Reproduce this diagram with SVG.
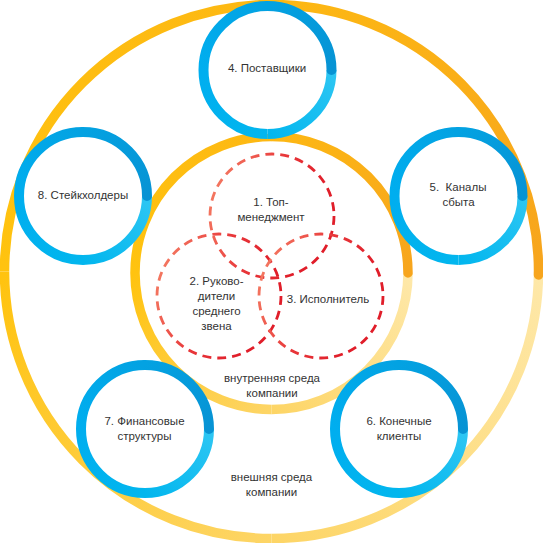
<svg xmlns="http://www.w3.org/2000/svg" xmlns:xlink="http://www.w3.org/1999/xlink" width="543" height="543" viewBox="0 0 543 543">
<style>
.lbl{font-family:"Liberation Sans","Noto Sans",Arial,sans-serif;font-size:11.5px;fill:#333;text-anchor:middle}
.yr{fill:none;stroke-width:9.5}
.br{fill:none;stroke-width:10}
.dash{fill:none;stroke-width:2.8;stroke-dasharray:9 6}
</style>
<defs>
<linearGradient id="yA" x1="1" y1="1" x2="0" y2="0"><stop offset="0" stop-color="#F7A51D"/><stop offset="1" stop-color="#FDB813"/></linearGradient>
<linearGradient id="yB" x1="1" y1="0" x2="0" y2="1"><stop offset="0" stop-color="#FDB813"/><stop offset="1" stop-color="#FFC30F"/></linearGradient>
<linearGradient id="yC" x1="0" y1="0" x2="1" y2="1"><stop offset="0" stop-color="#FFC30F"/><stop offset="1" stop-color="#FDD566"/></linearGradient>
<linearGradient id="yD" x1="0" y1="1" x2="1" y2="0"><stop offset="0" stop-color="#FDD566"/><stop offset="1" stop-color="#FEE8A9"/></linearGradient>
<linearGradient id="bA" x1="1" y1="1" x2="0" y2="0"><stop offset="0" stop-color="#0793D4"/><stop offset="1" stop-color="#03A2E2"/></linearGradient>
<linearGradient id="bB" x1="1" y1="0" x2="0" y2="1"><stop offset="0" stop-color="#03A2E2"/><stop offset="1" stop-color="#00AEEF"/></linearGradient>
<linearGradient id="bC" x1="0" y1="0" x2="1" y2="1"><stop offset="0" stop-color="#00AEEF"/><stop offset="1" stop-color="#02B6EE"/></linearGradient>
<linearGradient id="bD" x1="0" y1="1" x2="1" y2="0"><stop offset="0" stop-color="#02B6EE"/><stop offset="1" stop-color="#2DC6F3"/></linearGradient>
<linearGradient id="rd" x1="0" y1="0.3" x2="0.8" y2="0.6"><stop offset="0" stop-color="#F47A62"/><stop offset="0.55" stop-color="#E8373A"/><stop offset="1" stop-color="#E01E2A"/></linearGradient>
<g id="blueRing">
<circle cx="0" cy="0" r="64" fill="#fff"/>
<path class="br" stroke="url(#bD)" d="M0,64 A64,64 0 0 0 64,0"/>
<path class="br" stroke="url(#bC)" d="M-64,0 A64,64 0 0 0 0,64"/>
<path class="br" stroke="url(#bB)" d="M0,-64 A64,64 0 0 0 -64,0"/>
<path class="br" stroke="url(#bA)" stroke-linecap="round" d="M64,0 A64,64 0 0 0 0,-64"/>
</g>
</defs>
<rect width="543" height="543" fill="#fff"/>
<g id="outer-ring">
<path class="yr" stroke="url(#yD)" d="M271.5,538.5 A267,267 0 0 0 538.5,271.5"/>
<path class="yr" stroke="url(#yC)" d="M4.5,271.5 A267,267 0 0 0 271.5,538.5"/>
<path class="yr" stroke="url(#yB)" d="M271.5,4.5 A267,267 0 0 0 4.5,271.5"/>
<path class="yr" stroke="url(#yA)" stroke-linecap="round" d="M538.5,275 A267,267 0 0 0 271.5,4.5"/>
<text class="lbl" x="271.5" y="481">внешняя среда</text>
<text class="lbl" x="271.5" y="496">компании</text>
</g>
<g id="inner-ring">
<path class="yr" stroke="url(#yD)" d="M271.5,409.5 A136.5,136.5 0 0 0 408,273"/>
<path class="yr" stroke="url(#yC)" d="M135,273 A136.5,136.5 0 0 0 271.5,409.5"/>
<path class="yr" stroke="url(#yB)" d="M271.5,136.5 A136.5,136.5 0 0 0 135,273"/>
<path class="yr" stroke="url(#yA)" stroke-linecap="round" d="M408,273 A136.5,136.5 0 0 0 271.5,136.5"/>
<text class="lbl" x="272" y="382">внутренняя среда</text>
<text class="lbl" x="272" y="397">компании</text>
</g>
<g id="node-1">
<circle class="dash" stroke="url(#rd)" cx="272" cy="216" r="62"/>
<text class="lbl" x="271" y="206">1. Топ-</text>
<text class="lbl" x="271" y="221">менеджмент</text>
</g>
<g id="node-2">
<circle class="dash" stroke="url(#rd)" cx="219" cy="296" r="62"/>
<text class="lbl" x="216.5" y="285">2. Руково-</text>
<text class="lbl" x="216.5" y="300">дители</text>
<text class="lbl" x="216.5" y="315">среднего</text>
<text class="lbl" x="216.5" y="330">звена</text>
</g>
<g id="node-3">
<circle class="dash" stroke="url(#rd)" cx="321" cy="296" r="62"/>
<text class="lbl" x="328" y="303">3. Исполнитель</text>
</g>
<g id="node-4">
<use xlink:href="#blueRing" href="#blueRing" transform="translate(267.5,70)"/>
<text class="lbl" x="267" y="72">4. Поставщики</text>
</g>
<g id="node-5">
<use xlink:href="#blueRing" href="#blueRing" transform="translate(458.5,196)"/>
<text class="lbl" x="458" y="191" xml:space="preserve">5.  Каналы</text>
<text class="lbl" x="458.5" y="206">сбыта</text>
</g>
<g id="node-6">
<use xlink:href="#blueRing" href="#blueRing" transform="translate(399,429)"/>
<text class="lbl" x="399" y="425">6. Конечные</text>
<text class="lbl" x="399" y="440">клиенты</text>
</g>
<g id="node-7">
<use xlink:href="#blueRing" href="#blueRing" transform="translate(145,429)"/>
<text class="lbl" x="144.5" y="425">7. Финансовые</text>
<text class="lbl" x="144.5" y="440">структуры</text>
</g>
<g id="node-8">
<use xlink:href="#blueRing" href="#blueRing" transform="translate(83,196)"/>
<text class="lbl" x="83" y="199">8. Стейкхолдеры</text>
</g>
<g id="connectors"/>
</svg>
